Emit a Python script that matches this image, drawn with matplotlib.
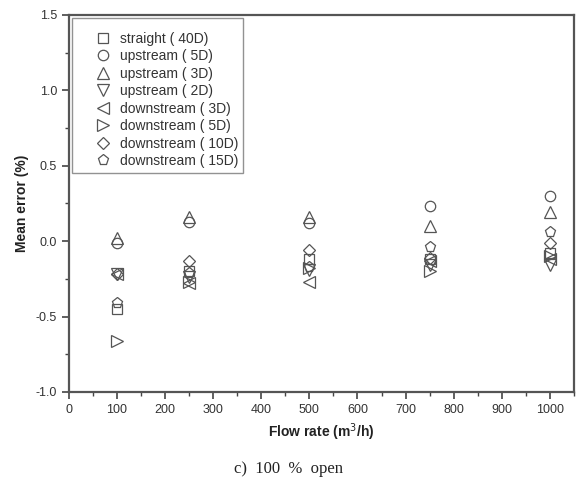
import numpy as np
import matplotlib.pyplot as plt
from matplotlib.ticker import MultipleLocator

plt.rcParams['font.family'] = ['Liberation Sans', 'DejaVu Sans']

# Vazões (m3/h)
flow = [100, 250, 500, 750, 1000]

# Erro médio (%) por condição de instalação
straight_40d = [-0.45, -0.20, -0.12, -0.12, -0.08]
upstream_5d = [-0.01, 0.13, 0.12, 0.23, 0.30]
upstream_3d = [0.02, 0.16, 0.16, 0.10, 0.19]
upstream_2d = [-0.22, -0.24, -0.19, -0.16, -0.16]
downstream_3d = [-0.22, -0.28, -0.27, -0.13, -0.12]
downstream_5d = [-0.66, -0.27, -0.18, -0.20, -0.10]
downstream_10d = [-0.22, -0.13, -0.06, -0.11, -0.01]
downstream_15d = [-0.41, -0.21, -0.17, -0.04, 0.06]

labels = ['straight ( 40D)', 'upstream ( 5D)', 'upstream ( 3D)', 'upstream ( 2D)',
          'downstream ( 3D)', 'downstream ( 5D)', 'downstream ( 10D)', 'downstream ( 15D)']
series = [straight_40d, upstream_5d, upstream_3d, upstream_2d,
          downstream_3d, downstream_5d, downstream_10d, downstream_15d]
markers = ['s', 'o', '^', 'v', '<', '>', 'D', 'p']
sizes = [6.5, 7.5, 8, 8, 8, 8, 6.5, 8]

fig = plt.figure(figsize=(5.78, 4.98), dpi=100)
ax = fig.add_axes([0.119, 0.213, 0.874, 0.757])

cor = '#555555'
for y, lab, m, ms in zip(series, labels, markers, sizes):
    ax.plot(flow, y, ls='none', marker=m, ms=ms, mfc='none', mec=cor, mew=0.9, label=lab)

ax.set_xlim(0, 1050)
ax.set_ylim(-1.0, 1.5)
ax.xaxis.set_major_locator(MultipleLocator(100))
ax.xaxis.set_minor_locator(MultipleLocator(50))
ax.yaxis.set_major_locator(MultipleLocator(0.5))
ax.yaxis.set_minor_locator(MultipleLocator(0.25))
ax.tick_params(which='major', direction='out', length=5, width=1.2, color='#444444',
               labelsize=9, labelcolor='#333333')
ax.tick_params(which='minor', direction='out', length=3, width=1.0, color='#444444')
ax.yaxis.set_major_formatter(plt.FuncFormatter(lambda v, p: f'{v:.1f}'))

for s in ax.spines.values():
    s.set_linewidth(1.6)
    s.set_color('#555555')

ax.set_xlabel('Flow rate (m$^3$/h)', fontsize=10, fontweight='bold', color='#222222', labelpad=4)
ax.set_ylabel('Mean error (%)', fontsize=10, fontweight='bold', color='#222222', labelpad=5)

leg = ax.legend(loc='upper left', fontsize=10, frameon=True, fancybox=False,
                edgecolor='#777777', handletextpad=-0.6, labelspacing=0.25,
                borderaxespad=0.25, borderpad=0.35, handlelength=3.7, markerscale=1.0,
                title=' ', title_fontsize=4)
leg.get_frame().set_linewidth(1.0)
for t in leg.get_texts():
    t.set_color('#333333')

fig.text(0.50, 0.058, 'c)  100  %  open', ha='center', va='center', fontsize=12,
         family=['Liberation Serif', 'DejaVu Serif'], color='#222222')

fig.savefig('out.png', dpi=100)
